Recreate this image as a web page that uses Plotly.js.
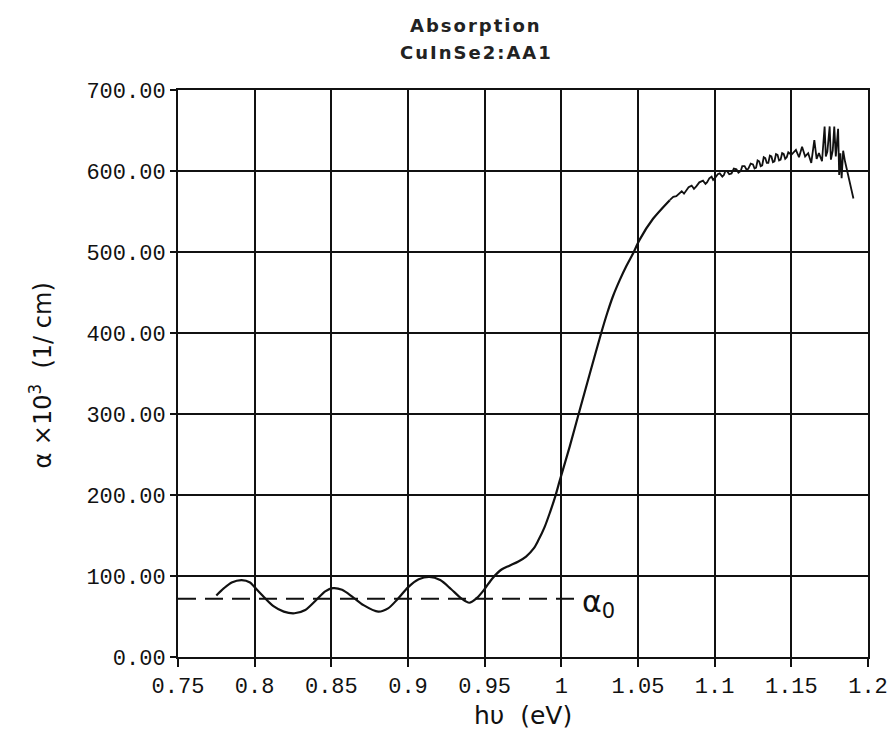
<!DOCTYPE html>
<html>
<head>
<meta charset="utf-8">
<script src="https://cdn.plot.ly/plotly-3.0.1.min.js"></script>
<style>
  html, body { margin: 0; padding: 0; background: #fff; }
  #chart { width: 895px; height: 749px; }
  g.annotation[data-index="0"] text, g.annotation[data-index="1"] text { letter-spacing: 2px; }
</style>
</head>
<body>
<div id="chart"></div>
<script>
// Smooth part of absorption curve (photon energy eV, alpha x10^3 1/cm)
const smoothX = [0.775, 0.780, 0.785, 0.7915, 0.797, 0.800, 0.806, 0.812, 0.819, 0.826,
  0.833, 0.840, 0.846, 0.851, 0.857, 0.864, 0.871, 0.8806, 0.887, 0.893,
  0.900, 0.907, 0.914, 0.921, 0.928, 0.935, 0.940, 0.945, 0.950, 0.955,
  0.961, 0.9665, 0.972, 0.977, 0.982, 0.985, 0.989, 0.9925, 0.996, 0.999,
  1.0055, 1.012, 1.0186, 1.026, 1.030, 1.0338, 1.038, 1.0425, 1.047, 1.051,
  1.0598, 1.0707];
const smoothY = [76, 85, 92, 95, 92, 86, 74, 63, 56, 54,
  58, 70, 81, 85, 83, 74, 64, 56, 60, 71,
  86, 96, 99, 95, 84, 72, 67, 73, 84, 97,
  108, 113, 118, 124, 134, 144, 160, 178, 198, 218,
  260, 305, 350, 400, 425, 446, 465, 483, 499, 515,
  541, 564];
// Noisy high-energy part
const noisyX = [1.0707, 1.073, 1.075, 1.077, 1.0785, 1.080, 1.0816, 1.083, 1.085, 1.0865,
  1.088, 1.090, 1.0924, 1.094, 1.095, 1.0965, 1.098, 1.099, 1.1005, 1.102,
  1.1033, 1.105, 1.106, 1.107, 1.108, 1.1095, 1.111, 1.1125, 1.1142, 1.1155,
  1.117, 1.118, 1.1195, 1.121, 1.122, 1.1235, 1.125, 1.126, 1.127, 1.128,
  1.129, 1.130, 1.131, 1.132, 1.133, 1.134, 1.135, 1.136, 1.137, 1.138,
  1.139, 1.140, 1.141, 1.142, 1.143, 1.144, 1.145, 1.146, 1.147, 1.148,
  1.150, 1.153, 1.155, 1.157, 1.159, 1.161, 1.163, 1.165, 1.1665, 1.168,
  1.170, 1.1717, 1.1725, 1.1735, 1.175, 1.1758, 1.177, 1.178, 1.179, 1.1805,
  1.1812, 1.182, 1.1828, 1.1838, 1.185, 1.187, 1.189, 1.1905];
const noisyY = [564, 568, 569, 573, 575, 572, 576, 580, 582, 578,
  581, 586, 588, 584, 586, 591, 593, 589, 592, 596,
  597, 593, 595, 600, 600, 596, 597, 603, 602, 598,
  600, 606, 606, 601, 603, 609, 608, 603, 604, 613,
  612, 606, 607, 617, 616, 610, 610, 619, 618, 611,
  612, 621, 620, 613, 614, 622, 621, 615, 617, 623,
  620, 626, 617, 630, 618, 622, 610, 638, 615, 622,
  612, 655, 618, 624, 655, 614, 625, 655, 618, 652,
  595, 622, 591, 625, 612, 596, 580, 566];
// Reference level alpha_0
const alpha0X = [0.75, 1.009];
const alpha0Y = [72, 72];
const yTicks = [0, 100, 200, 300, 400, 500, 600, 700];
const xTicks = [0.75, 0.8, 0.85, 0.9, 0.95, 1, 1.05, 1.1, 1.15, 1.2];
const xTickText = ["0.75", "0.8", "0.85", "0.9", "0.95", "1", "1.05", "1.1", "1.15", "1.2"];

const traces = [
  { x: alpha0X, y: alpha0Y, mode: 'lines', line: { color: '#111', width: 2, dash: '18px,9px' }, hoverinfo: 'skip' },
  { x: smoothX, y: smoothY, mode: 'lines', line: { color: '#111', width: 2.2, shape: 'spline', smoothing: 0.8 } },
  { x: noisyX, y: noisyY, mode: 'lines', line: { color: '#111', width: 1.8 } }
];

const tickFont = { family: 'Liberation Mono, Courier New, monospace', size: 22, color: '#111' };

const layout = {
  width: 895, height: 749,
  margin: { l: 178, r: 27, t: 90, b: 92 },
  paper_bgcolor: '#fff', plot_bgcolor: '#fff',
  showlegend: false,
  xaxis: {
    range: [0.75, 1.2],
    tickmode: 'array', tickvals: xTicks, ticktext: xTickText,
    ticks: 'outside', ticklen: 8, tickwidth: 2, tickcolor: '#111',
    showgrid: true, gridcolor: '#111', gridwidth: 2,
    showline: true, linecolor: '#111', linewidth: 2, mirror: true,
    zeroline: false,
    tickfont: tickFont
  },
  yaxis: {
    range: [0, 700],
    tickmode: 'array', tickvals: yTicks,
    ticktext: yTicks.map(v => v.toFixed(2)),
    ticks: 'outside', ticklen: 6, tickwidth: 2, tickcolor: '#111',
    showgrid: true, gridcolor: '#111', gridwidth: 2,
    showline: true, linecolor: '#111', linewidth: 2, mirror: true,
    zeroline: false,
    tickfont: tickFont
  },
  annotations: [
    { text: '<b>Absorption</b>', x: 0.432, y: 1.113, xref: 'paper', yref: 'paper',
      showarrow: false, xanchor: 'center', yanchor: 'middle',
      font: { family: 'DejaVu Sans, sans-serif', size: 18, color: '#222' } },
    { text: '<b>CuInSe2:AA1</b>', x: 0.432, y: 1.066, xref: 'paper', yref: 'paper',
      showarrow: false, xanchor: 'center', yanchor: 'middle',
      font: { family: 'DejaVu Sans, sans-serif', size: 18, color: '#222' } },
    { text: 'α<sub>0</sub>', x: 1.012, y: 66, xref: 'x', yref: 'y', xanchor: 'left', yanchor: 'middle',
      showarrow: false, font: { family: 'DejaVu Sans, sans-serif', size: 30, color: '#111' } },
    { text: 'α ×10<sup>3</sup>  (1/ cm)', x: -0.198, y: 0.497, xref: 'paper', yref: 'paper',
      textangle: -90, showarrow: false, xanchor: 'center', yanchor: 'middle',
      font: { family: 'DejaVu Sans, sans-serif', size: 24, color: '#111' } },
    { text: 'hυ  (eV)', x: 0.5, y: -0.103, xref: 'paper', yref: 'paper',
      showarrow: false, xanchor: 'center', yanchor: 'middle',
      font: { family: 'DejaVu Sans, sans-serif', size: 25, color: '#111' } }
  ]
};

Plotly.newPlot('chart', traces, layout, { staticPlot: true, displayModeBar: false });
</script>
</body>
</html>
